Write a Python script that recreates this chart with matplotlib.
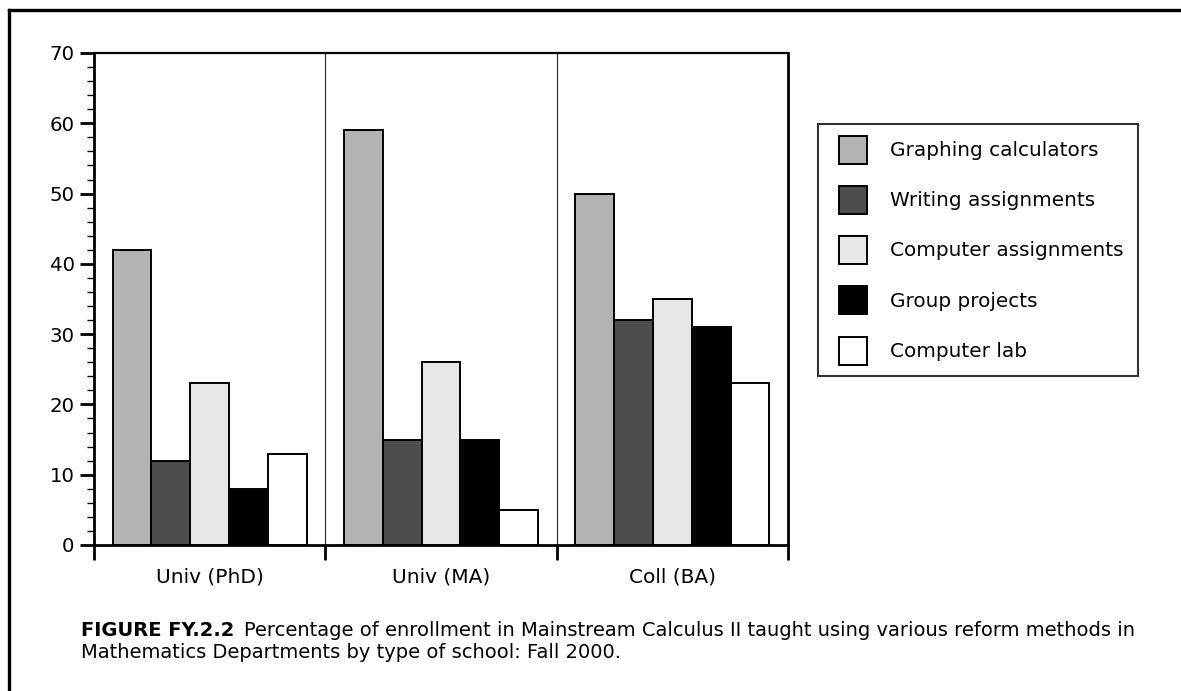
import matplotlib
matplotlib.use("Agg")
import matplotlib.pyplot as plt
from matplotlib.lines import Line2D
from matplotlib.patches import Rectangle
from matplotlib.container import BarContainer
from matplotlib.legend_handler import HandlerPatch
import numpy as np

plt.rcParams['font.family'] = ['DejaVu Sans']

categories = ["Univ (PhD)", "Univ (MA)", "Coll (BA)"]
series_names = ["Graphing calculators", "Writing assignments",
                "Computer assignments", "Group projects", "Computer lab"]
graphing_calculators = [42, 59, 50]
writing_assignments = [12, 15, 32]
computer_assignments = [23, 26, 35]
group_projects = [8, 15, 31]
computer_lab = [13, 5, 23]
yticks = [0, 10, 20, 30, 40, 50, 60, 70]

series_values = [graphing_calculators, writing_assignments,
                 computer_assignments, group_projects, computer_lab]
colors = ["#b3b3b3", "#4d4d4d", "#e6e6e6", "#000000", "#ffffff"]

W, H = 1181, 691
fig = plt.figure(figsize=(W / 100, H / 100), dpi=100)
ax = fig.add_axes([94 / W, 1 - 545 / H, (788 - 94) / W, (545 - 53) / H])

n = len(series_names)
bw = 0.168
centers = np.arange(len(categories)) + 0.5
for i, (name, vals) in enumerate(zip(series_names, series_values)):
    x = centers + (i - (n - 1) / 2) * bw
    ax.bar(x, vals, width=bw, color=colors[i], edgecolor="black",
           linewidth=1.4, label=name, zorder=3)

for xv in range(1, len(categories)):
    ax.axvline(xv, color="#333333", linewidth=0.9, zorder=1)

ax.set_xlim(0, len(categories))
ax.set_ylim(0, 70)
ax.set_yticks(yticks)
ax.set_yticks(np.arange(0, 71, 2), minor=True)
ax.set_xticks(np.arange(len(categories) + 1))
ax.set_xticklabels([])
ax.set_xticks(centers, minor=True)
ax.set_xticklabels(categories, minor=True)
ax.tick_params(axis="y", which="major", length=10, width=2, direction="out",
               labelsize=14.2, pad=4)
ax.tick_params(axis="y", which="minor", length=5, width=1, direction="out")
ax.tick_params(axis="x", which="major", length=11, width=2, direction="out")
ax.tick_params(axis="x", which="minor", length=0, labelsize=14.5, pad=16)
for s in ax.spines.values():
    s.set_linewidth(2)
ax.spines["top"].set_linewidth(1.6)


def square_patch(legend, orig_handle, xdescent, ydescent, width, height,
                 fontsize):
    side = height + ydescent
    shift = 0.15 * fontsize
    return Rectangle((-xdescent + width - side, -ydescent - shift), side, side)


def first_child(legend_handle, orig_handle):
    legend_handle.update_from(orig_handle.patches[0])


leg_fs = 14.4
leg = ax.legend(loc="upper left", bbox_to_anchor=(818 / W, 1 - 124 / H),
                bbox_transform=fig.transFigure, fontsize=leg_fs,
                handlelength=1.75, handleheight=1.4, labelspacing=1.35,
                handletextpad=1.15, borderpad=0.7, borderaxespad=0,
                fancybox=False, frameon=True, edgecolor="black",
                handler_map={BarContainer: HandlerPatch(
                    patch_func=square_patch, update_func=first_child)})
leg.get_frame().set_linewidth(1.5)

# outer border
fig.add_artist(Line2D([9 / W, 1.0], [1 - 10 / H, 1 - 10 / H],
                      transform=fig.transFigure, color="black", linewidth=2.4))
fig.add_artist(Line2D([9 / W, 9 / W], [1 - 10 / H, 0.0],
                      transform=fig.transFigure, color="black", linewidth=2.4))

# caption
cap_size = 14.0
t1 = fig.text(81 / W, 1 - 636 / H, "FIGURE FY.2.2", fontsize=cap_size,
              fontweight="bold", va="baseline", ha="left")
fig.canvas.draw()
bb = t1.get_window_extent()
fig.text(bb.x1 / W + 10 / W, 1 - 636 / H,
         "Percentage of enrollment in Mainstream Calculus II taught using various reform methods in",
         fontsize=cap_size, va="baseline", ha="left")
fig.text(81 / W, 1 - 658 / H,
         "Mathematics Departments by type of school: Fall 2000.",
         fontsize=cap_size, va="baseline", ha="left")

fig.savefig("out.png", dpi=100)
